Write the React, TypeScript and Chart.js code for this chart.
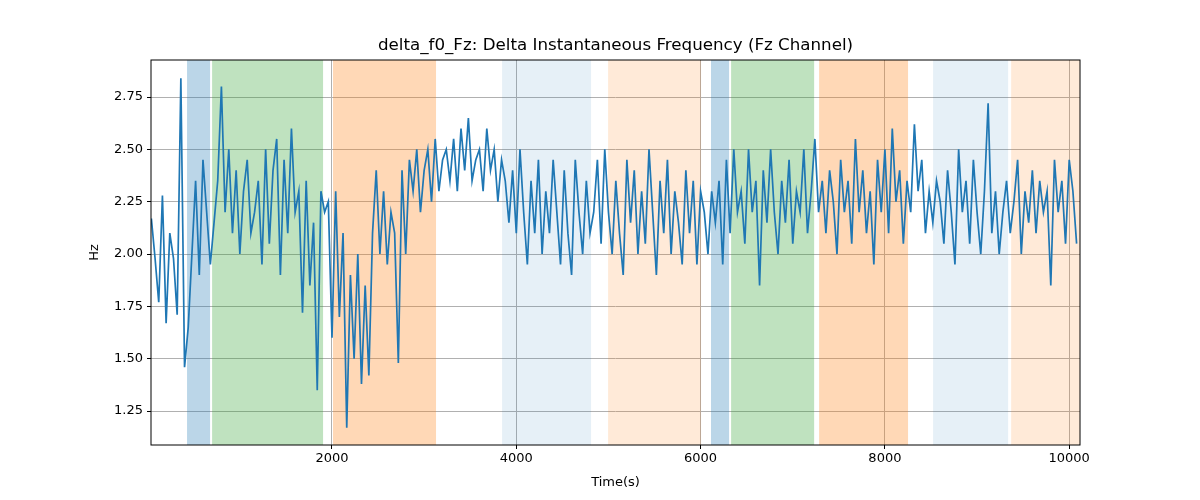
import React, { useEffect, useRef } from "react";
import { Chart, registerables } from "chart.js";
Chart.register(...registerables);

const X_START = 40;
const X_STEP = 40;
const values: number[] = [
2.17,1.98,1.77,2.28,1.67,2.1,1.98,1.71,2.84,1.46,
1.65,2.0,2.35,1.9,2.45,2.2,1.95,2.15,2.35,2.8,
2.2,2.5,2.1,2.4,2.0,2.3,2.45,2.1,2.2,2.35,
1.95,2.5,2.05,2.4,2.55,1.9,2.45,2.1,2.6,2.2,
2.3,1.72,2.35,1.85,2.15,1.35,2.3,2.2,2.25,1.6,
2.3,1.7,2.1,1.17,1.9,1.5,2.0,1.38,1.85,1.42,
2.1,2.4,2.0,2.3,1.95,2.2,2.1,1.48,2.4,2.0,
2.45,2.3,2.5,2.2,2.4,2.5,2.25,2.55,2.3,2.45,
2.5,2.35,2.55,2.3,2.6,2.4,2.65,2.35,2.45,2.5,
2.3,2.6,2.4,2.5,2.25,2.45,2.35,2.15,2.4,2.1,
2.5,2.2,1.95,2.35,2.1,2.45,2.0,2.3,2.1,2.45,
2.2,1.95,2.4,2.1,1.9,2.45,2.2,2.0,2.35,2.1,
2.2,2.45,2.05,2.5,2.2,2.0,2.35,2.1,1.9,2.45,
2.15,2.4,2.0,2.3,2.05,2.5,2.2,1.9,2.35,2.1,
2.45,2.0,2.3,2.15,1.95,2.4,2.1,2.35,1.95,2.3,
2.2,2.0,2.3,2.15,2.35,1.95,2.45,2.1,2.5,2.2,
2.3,2.05,2.5,2.2,2.35,1.85,2.4,2.15,2.5,2.2,
2.0,2.35,2.15,2.45,2.05,2.3,2.2,2.5,2.1,2.3,
2.55,2.2,2.35,2.1,2.4,2.25,2.0,2.45,2.2,2.35,
2.05,2.55,2.2,2.4,2.1,2.3,1.95,2.45,2.2,2.5,
2.1,2.6,2.25,2.4,2.05,2.35,2.2,2.62,2.3,2.45,
2.1,2.3,2.15,2.35,2.25,2.05,2.4,2.2,1.95,2.5,
2.2,2.35,2.05,2.45,2.2,2.0,2.3,2.72,2.1,2.3,
2.0,2.2,2.35,2.1,2.25,2.45,2.0,2.3,2.15,2.4,
2.1,2.35,2.2,2.3,1.85,2.45,2.2,2.35,2.05,2.45,
2.3,2.05
];
const spanStarts = [427, 699, 2011, 3846, 4996, 6113, 6331, 7286, 8523, 9370];
const spanEnds = [677, 1903, 3129, 4811, 6005, 6309, 7232, 8251, 9337, 10117];
const spanColors = [
  "rgba(31,119,180,0.3)", "rgba(44,160,44,0.3)", "rgba(255,127,14,0.3)",
  "rgba(31,119,180,0.11)", "rgba(255,127,14,0.16)",
  "rgba(31,119,180,0.3)", "rgba(44,160,44,0.3)", "rgba(255,127,14,0.3)",
  "rgba(31,119,180,0.11)", "rgba(255,127,14,0.16)"
];
const xTicks = [2000, 4000, 6000, 8000, 10000];
const yTicks = [1.25, 1.5, 1.75, 2.0, 2.25, 2.5, 2.75];

export default function App() {
  const ref = useRef<HTMLCanvasElement>(null);
  useEffect(() => {
    const pts = values.map((v, i) => ({ x: X_START + i * X_STEP, y: v }));
    const spans = {
      id: "spans",
      beforeDatasetsDraw(chart: any) {
        const { ctx, chartArea: a, scales } = chart;
        ctx.save();
        spanStarts.forEach((s, i) => {
          const x0 = scales.x.getPixelForValue(s);
          const x1 = scales.x.getPixelForValue(spanEnds[i]);
          ctx.fillStyle = spanColors[i];
          ctx.fillRect(x0, a.top, x1 - x0, a.bottom - a.top);
        });
        ctx.restore();
      },
      afterDraw(chart: any) {
        const { ctx, chartArea: a } = chart;
        ctx.save();
        ctx.strokeStyle = "#000";
        ctx.lineWidth = 1;
        ctx.strokeRect(a.left, a.top, a.right - a.left, a.bottom - a.top);
        ctx.fillStyle = "#000";
        ctx.font = "16.7px 'DejaVu Sans'";
        ctx.textAlign = "center";
        ctx.textBaseline = "bottom";
        ctx.fillText("delta_f0_Fz: Delta Instantaneous Frequency (Fz Channel)", (a.left + a.right) / 2, a.top - 6);
        ctx.restore();
      },
    };
    const font = { family: "'DejaVu Sans'", size: 13 };
    const chart = new Chart(ref.current!, {
      type: "line",
      data: { datasets: [{ data: pts, borderColor: "#1f77b4", borderWidth: 1.7, pointRadius: 0, tension: 0 }] },
      options: {
        animation: false,
        responsive: false,
        layout: { padding: { top: 60, right: 120, left: 87, bottom: 10 } },
        plugins: { legend: { display: false }, tooltip: { enabled: false } },
        scales: {
          x: {
            type: "linear", min: 36, max: 10117,
            afterBuildTicks: (s: any) => { s.ticks = xTicks.map((v) => ({ value: v })); },
            afterFit: (s: any) => { s.height = 45; },
            ticks: { color: "#000", font, maxRotation: 0, padding: 2, callback: (v: any) => String(v) },
            grid: { color: "#b0b0b0", drawTicks: true, tickLength: 4, tickColor: "#000" },
            border: { display: false },
            title: { display: true, text: "Time(s)", color: "#000", font, padding: { top: 0, bottom: 0 } },
          },
          y: {
            min: 1.088, max: 2.927,
            afterBuildTicks: (s: any) => { s.ticks = yTicks.map((v) => ({ value: v })); },
            afterFit: (s: any) => { s.width = 64; },
            ticks: { color: "#000", font, padding: 4, callback: (v: any) => Number(v).toFixed(2) },
            grid: { color: "#b0b0b0", tickLength: 4, tickColor: "#000" },
            border: { display: false },
            title: { display: true, text: "Hz", color: "#000", font, padding: 0 },
          },
        },
      },
      plugins: [spans],
    });
    return () => chart.destroy();
  }, []);
  return (
    <div style={{ position: "absolute", left: 0, top: 0, width: 1200, height: 500, background: "#fff" }}>
      <canvas ref={ref} width={1200} height={500} />
    </div>
  );
}
